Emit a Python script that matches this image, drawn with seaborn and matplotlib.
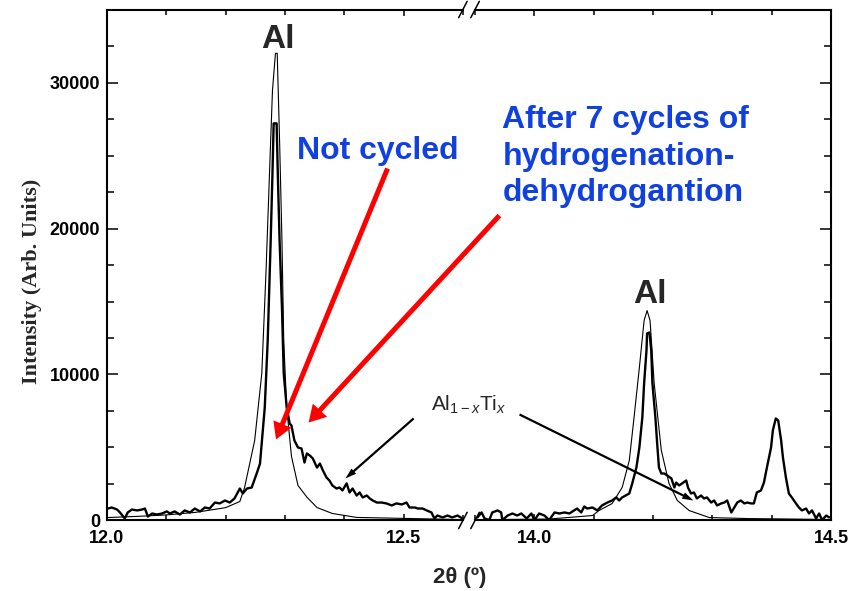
import matplotlib.pyplot as plt
import seaborn as sns
from matplotlib.ticker import MultipleLocator

sns.set_style("ticks")
plt.rcParams["font.family"] = ["Liberation Sans", "DejaVu Sans"]
plt.rcParams["font.weight"] = "bold"
plt.rcParams["mathtext.fontset"] = "custom"
plt.rcParams["mathtext.rm"] = "Liberation Sans:normal"
plt.rcParams["mathtext.it"] = "Liberation Sans:italic:normal"

# Muestra sin ciclar (linea fina), tramo 12.0 - 12.6
tt_fresh_low = [12.000, 12.050, 12.100, 12.150, 12.200, 12.224, 12.232, 12.249,
                12.261, 12.268, 12.274, 12.279, 12.284, 12.287, 12.291, 12.295,
                12.298, 12.303, 12.311, 12.322, 12.337, 12.354, 12.380, 12.421,
                12.505, 12.600]
int_fresh_low = [200, 280, 380, 560, 880, 1300, 2260, 5480,
                 10070, 16900, 23770, 29450, 32000, 32000, 26000, 19180,
                 12330, 7740, 4400, 2400, 1600, 890, 480, 210,
                 140, 60]

# Muestra sin ciclar, tramo 13.9 - 14.5
tt_fresh_high = [13.902, 14.025, 14.098, 14.109, 14.131, 14.148, 14.160, 14.168,
                 14.177, 14.185, 14.190, 14.195, 14.202, 14.214, 14.227, 14.241,
                 14.261, 14.295, 14.362, 14.497]
int_fresh_high = [50, 100, 340, 685, 1160, 2260, 4110, 7050,
                  10480, 13700, 14380, 13700, 9380, 4800, 2530, 1370,
                  680, 200, 130, 70]

# Tras 7 ciclos (linea gruesa), tramo 12.0 - 12.6
tt_cyc_low = [12.002, 12.008, 12.017, 12.022, 12.030, 12.035, 12.042, 12.051,
              12.059, 12.064, 12.069, 12.076, 12.084, 12.093, 12.101, 12.106,
              12.114, 12.123, 12.131, 12.140, 12.148, 12.157, 12.165, 12.173,
              12.182, 12.190, 12.199, 12.207, 12.215, 12.224, 12.229, 12.236,
              12.244, 12.253, 12.258, 12.266, 12.271, 12.276, 12.279, 12.281,
              12.286, 12.288, 12.291, 12.295, 12.298, 12.303, 12.308, 12.311,
              12.316, 12.322, 12.328, 12.333, 12.337, 12.342, 12.347, 12.354,
              12.359, 12.364, 12.370, 12.375, 12.380, 12.387, 12.392, 12.397,
              12.404, 12.409, 12.414, 12.421, 12.426, 12.431, 12.438, 12.443,
              12.448, 12.455, 12.463, 12.471, 12.480, 12.488, 12.497, 12.505,
              12.510, 12.519, 12.524, 12.532, 12.539, 12.547, 12.552, 12.557,
              12.566, 12.574, 12.582, 12.591, 12.599]
int_cyc_low = [820, 890, 750, 550, 140, 550, 750, 690,
               750, 820, 270, 480, 410, 480, 620, 480,
               620, 410, 690, 550, 820, 620, 890, 820,
               1230, 1170, 1370, 1230, 1510, 2190, 1850, 2190,
               2260, 3290, 3900, 7740, 12330, 19180, 23770, 27200,
               27200, 23770, 19180, 14590, 10070, 7740, 6640, 6510,
               5480, 5000, 4930, 3970, 4590, 4450, 4250, 3630,
               3900, 3430, 2950, 2740, 2400, 2190, 2260, 2060,
               2540, 1920, 2190, 1710, 1920, 1580, 1710, 1510,
               1370, 1230, 1230, 1170, 1030, 1170, 1100, 1230,
               890, 890, 820, 820, 690, 550, 140, 340,
               210, 340, 210, 340, 140]

# Tras 7 ciclos, tramo 13.9 - 14.5
tt_cyc_high = [13.904, 13.911, 13.916, 13.924, 13.929, 13.938, 13.944, 13.946,
               13.955, 13.963, 13.971, 13.978, 13.987, 13.995, 14.000, 14.008,
               14.017, 14.025, 14.034, 14.042, 14.051, 14.059, 14.067, 14.072,
               14.079, 14.084, 14.089, 14.098, 14.106, 14.114, 14.123, 14.131,
               14.138, 14.143, 14.148, 14.160, 14.165, 14.172, 14.177, 14.182,
               14.185, 14.189, 14.190, 14.194, 14.197, 14.199, 14.204, 14.207,
               14.210, 14.214, 14.219, 14.224, 14.231, 14.236, 14.239, 14.244,
               14.249, 14.256, 14.259, 14.264, 14.269, 14.274, 14.281, 14.286,
               14.291, 14.298, 14.303, 14.308, 14.315, 14.320, 14.325, 14.332,
               14.337, 14.342, 14.348, 14.354, 14.359, 14.365, 14.370, 14.375,
               14.382, 14.387, 14.392, 14.399, 14.402, 14.407, 14.411, 14.416,
               14.419, 14.424, 14.429, 14.434, 14.441, 14.446, 14.451, 14.458,
               14.463, 14.468, 14.475, 14.480, 14.485, 14.492, 14.497]
int_cyc_high = [210, 550, 140, 30, 550, 690, 550, 30,
                340, 480, 340, 480, 140, 480, 30, 480,
                340, 30, 550, 480, 550, 480, 690, 820,
                550, 960, 820, 890, 690, 1030, 1230, 1370,
                1580, 1370, 1580, 1850, 2540, 3630, 5000, 7060,
                9390, 11650, 12810, 12880, 11650, 9390, 7060, 5280,
                3630, 3220, 3220, 3080, 2880, 2260, 2600, 2400,
                2540, 2740, 2260, 1850, 1920, 1510, 1710, 1510,
                1580, 1230, 1370, 1030, 1170, 1230, 1370, 550,
                890, 1230, 1370, 1170, 1230, 1170, 1170, 1920,
                2060, 2600, 3630, 5000, 6170, 6990, 6850, 5480,
                4320, 2950, 1850, 1580, 1170, 890, 690, 820,
                480, 690, 140, 480, 30, 340, 210]

blue = "#1040e0"

fig, (ax1, ax2) = plt.subplots(1, 2, figsize=(8.55, 5.91), dpi=100, sharey=True)
fig.subplots_adjust(left=0.1251, right=0.9719, bottom=0.1193, top=0.9839,
                    wspace=0.0342)

# Curvas en cada tramo del eje roto
sns.lineplot(x=tt_fresh_low, y=int_fresh_low, ax=ax1, color="black", linewidth=0.8)
sns.lineplot(x=tt_cyc_low, y=int_cyc_low, ax=ax1, color="black", linewidth=1.7)
sns.lineplot(x=tt_fresh_high, y=int_fresh_high, ax=ax2, color="black", linewidth=0.8)
sns.lineplot(x=tt_cyc_high, y=int_cyc_high, ax=ax2, color="black", linewidth=1.7)

ax1.set_xlim(12.0, 12.6)
ax2.set_xlim(13.9, 14.5)
ax1.set_ylim(0, 35000)

for ax in (ax1, ax2):
    ax.patch.set_visible(False)
    ax.xaxis.set_major_locator(MultipleLocator(0.5))
    ax.xaxis.set_minor_locator(MultipleLocator(0.1))
    ax.yaxis.set_major_locator(MultipleLocator(10000))
    ax.yaxis.set_minor_locator(MultipleLocator(2500))
    ax.tick_params(which="both", direction="in", top=True, width=1.1,
                   labelsize=13, colors="black")
    ax.tick_params(axis="x", which="major", length=4.5, pad=7)
    ax.tick_params(axis="x", which="minor", length=3.5)
    ax.tick_params(axis="y", which="major", length=8, pad=5)
    ax.tick_params(axis="y", which="minor", length=5)
    for s in ax.spines.values():
        s.set_linewidth(1.5)
        s.set_color("black")

ax1.spines["right"].set_visible(False)
ax1.tick_params(axis="y", which="both", right=False)
ax2.spines["left"].set_visible(False)
ax2.tick_params(axis="y", which="both", left=False, right=True,
                labelleft=False, labelright=False)

# Marcas de corte //
d, dy = 0.012, 0.016
kw = dict(color="black", lw=1.1, clip_on=False)
for yy in (0, 1):
    ax1.plot([1 - d, 1 + d], [yy - dy, yy + dy], transform=ax1.transAxes, **kw)
    ax2.plot([-d, d], [yy - dy, yy + dy], transform=ax2.transAxes, **kw)

# Etiquetas de ejes
ax1.set_ylabel("Intensity (Arb. Units)", family="Liberation Serif",
               fontsize=16, fontweight="bold")
ax1.yaxis.set_label_coords(-0.182, 0.468)
ax1.set_xlabel("")
ax2.set_xlabel("")
fig.text(460 / 855, 1 - 577 / 591, "2\u03b8 (\u00ba)", fontsize=16,
         fontweight="bold", ha="center", va="center")

# Textos
ax1.text(12.288, 32330, "Al", ha="center", va="baseline", fontsize=24)
ax2.text(14.194, 14930, "Al", ha="center", va="baseline", fontsize=24)
ax1.text(12.320, 24730, "Not cycled", color=blue, fontsize=23, va="baseline")
ax2.text(13.946, 28430, "After 7 cycles of\nhydrogenation-\ndehydrogantion",
         color=blue, fontsize=23, va="top", ha="left", linespacing=1.28)
ax1.text(12.547, 7535, r"Al$_{1-x}$Ti$_{x}$", fontsize=15,
         fontweight="normal", va="baseline")

# Flechas rojas
red_style = "simple,head_length=0.6,head_width=0.7,tail_width=0.18"
ax1.annotate("", xy=(12.285, 5550), xytext=(12.473, 24110),
             arrowprops=dict(arrowstyle=red_style, mutation_scale=20,
                             color="red", lw=0, shrinkA=0, shrinkB=0))
ax2.annotate("", xy=(12.340, 6713), xycoords=ax1.transData,
             xytext=(13.941, 20890), textcoords="data", annotation_clip=False,
             arrowprops=dict(arrowstyle=red_style, mutation_scale=20,
                             color="red", lw=0, shrinkA=0, shrinkB=0))

# Flechas negras
blk_style = "simple,head_length=0.8,head_width=0.5,tail_width=0.16"
ax1.annotate("", xy=(12.402, 2877), xytext=(12.517, 6987),
             arrowprops=dict(arrowstyle=blk_style, mutation_scale=10,
                             color="black", lw=0, shrinkA=0, shrinkB=0))
ax2.annotate("", xy=(14.268, 1370), xytext=(13.975, 7261),
             arrowprops=dict(arrowstyle=blk_style, mutation_scale=10,
                             color="black", lw=0, shrinkA=0, shrinkB=0))

fig.savefig("out.png", dpi=100)
